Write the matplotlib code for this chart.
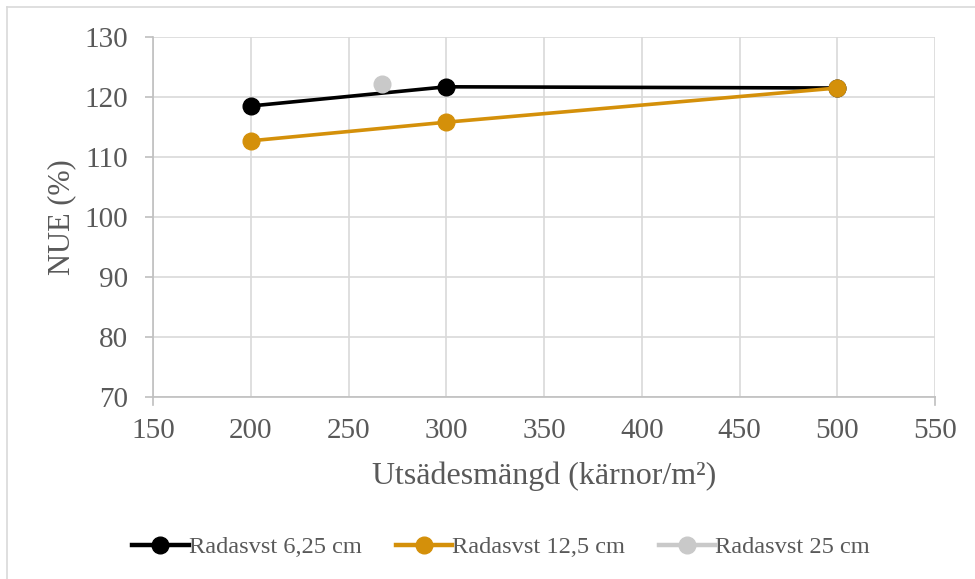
import matplotlib
matplotlib.use("Agg")
import matplotlib.pyplot as plt
from matplotlib.lines import Line2D

# Seed rate (kernels/m2) and nitrogen use efficiency per row spacing
x_625 = [200, 300, 500]
nue_625 = [118.5, 121.7, 121.5]
x_125 = [200, 300, 500]
nue_125 = [112.7, 115.8, 121.5]
x_25 = [267]
nue_25 = [122.2]

series_labels = ["Radasvst 6,25 cm", "Radasvst 12,5 cm", "Radasvst 25 cm"]
series_colors = ["#000000", "#D4900A", "#C9C9C9"]

xticks = [150, 200, 250, 300, 350, 400, 450, 500, 550]
yticks = [70, 80, 90, 100, 110, 120, 130]

plt.rcParams["font.family"] = ["Liberation Serif", "DejaVu Serif"]
text_color = "#595959"
grid_color = "#D9D9D9"

fig = plt.figure(figsize=(9.75, 5.79), dpi=100)
ax = fig.add_axes([153 / 975, 1 - 397 / 579, (935 - 153) / 975, (397 - 37) / 579])

# chart frame (top and left edges)
fig.add_artist(Line2D([7 / 975, 1.0], [1 - 7 / 579, 1 - 7 / 579], color=grid_color, lw=1.2))
fig.add_artist(Line2D([7 / 975, 7 / 975], [0.0, 1 - 7 / 579], color=grid_color, lw=1.2))

data = [(x_625, nue_625), (x_125, nue_125), (x_25, nue_25)]
order = [2, 0, 1]
for i in order:
    xs, ys = data[i]
    ax.plot(xs, ys, color=series_colors[i], lw=2.6, marker="o", markersize=12,
            label=series_labels[i], zorder=3 + i, clip_on=False)

ax.set_xlim(150, 550)
ax.set_ylim(70, 130)
ax.set_xticks(xticks)
ax.set_yticks(yticks)
ax.grid(True, color=grid_color, lw=1.2)
ax.set_axisbelow(True)

for s in ["top", "right"]:
    ax.spines[s].set_visible(False)
ax.spines["left"].set_color("#BFBFBF")
ax.spines["bottom"].set_color("#BFBFBF")
ax.spines["left"].set_linewidth(1.2)
ax.spines["bottom"].set_linewidth(1.2)

ax.tick_params(axis="y", length=6, width=1.2, color="#BFBFBF", labelsize=21,
               labelcolor=text_color, pad=12)
ax.tick_params(axis="x", length=0, labelsize=21, labelcolor=text_color, pad=15)

# short tick marks below the axis at both ends
for xv in (150, 550):
    ax.plot([xv, xv], [70, 68.6], color="#BFBFBF", lw=1.2, clip_on=False)

ax.set_xlabel("Utsädesmängd (kärnor/m²)", fontsize=23, color=text_color, labelpad=13)
ax.set_ylabel("NUE (%)", fontsize=22, color=text_color, labelpad=6)

handles = [Line2D([0], [0], color=c, lw=3.2, marker="o", markersize=12) for c in series_colors]
fig.legend(handles, series_labels, loc="center", bbox_to_anchor=(0.514, 1 - 547 / 579),
           ncol=3, frameon=False, fontsize=17.6, labelcolor=text_color,
           handlelength=2.3, handletextpad=0.0, columnspacing=1.4)

fig.savefig("out.png", dpi=100, facecolor="white")
